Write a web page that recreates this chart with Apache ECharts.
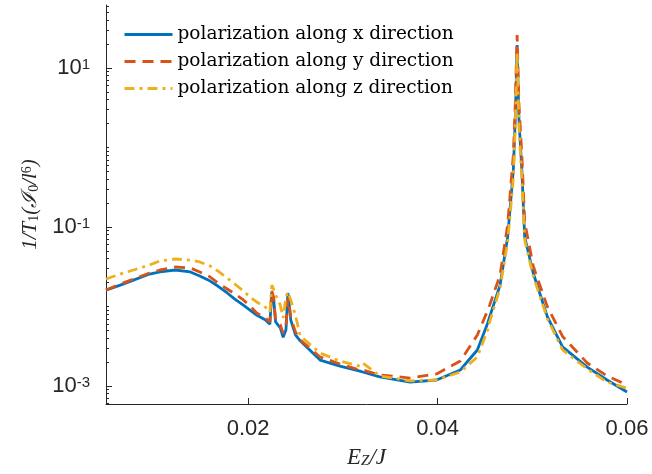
<!DOCTYPE html>
<html>
<head>
<meta charset="utf-8">
<script src="https://cdn.jsdelivr.net/npm/echarts@6/dist/echarts.min.js"></script>
<style>
html, body { margin: 0; padding: 0; background: #fff; }
#chart { width: 652px; height: 474px; }
</style>
</head>
<body>
<div id="chart"></div>
<script>
// E_Z / J
var ez = [0.0050, 0.0065, 0.0079, 0.0096, 0.0107, 0.0123, 0.0139, 0.0149, 0.0160, 0.0168,
          0.0178, 0.0186, 0.0195, 0.0202, 0.0209, 0.0218, 0.0223, 0.0225, 0.0227, 0.0229,
          0.0234, 0.0237, 0.0240, 0.0242, 0.0243, 0.0245, 0.0250, 0.0255, 0.0276, 0.0297,
          0.0318, 0.0321, 0.0339, 0.0371, 0.0399, 0.0424, 0.0442, 0.0453, 0.0455, 0.0466,
          0.0474, 0.0480, 0.0482, 0.0483, 0.0484, 0.0485, 0.0486, 0.0489, 0.0492, 0.0501,
          0.0516, 0.0532, 0.0558, 0.0579, 0.0600];
// 1/T1 for each polarization
var rateX = [0.0161, 0.0186, 0.0215, 0.0256, 0.0272, 0.0288, 0.0272, 0.0242, 0.0209, 0.0181,
             0.0148, 0.0124, 0.0104, 0.0090, 0.0078, 0.0068, 0.0060, 0.0152, 0.0125, 0.0064,
             0.0054, 0.0041, 0.0051, 0.0148, 0.0120, 0.0068, 0.0044, 0.0037, 0.00212, 0.00178,
             0.00154, 0.00150, 0.00130, 0.00112, 0.00119, 0.00159, 0.00284, 0.0062, 0.0074, 0.0186,
             0.0748, 0.52, 2.2, 6.1, 19.5, 6.1, 2.2, 0.52, 0.0748, 0.0264,
             0.0074, 0.0031, 0.00173, 0.00119, 0.00084];
var rateY = [0.0161, 0.0192, 0.0222, 0.0264, 0.0288, 0.0314, 0.0305, 0.0272, 0.0235, 0.0198,
             0.0166, 0.0144, 0.0121, 0.0102, 0.0083, 0.0072, 0.0064, 0.0157, 0.0130, 0.0068,
             0.0059, 0.0046, 0.0057, 0.0128, 0.0115, 0.0072, 0.0048, 0.0038, 0.00232, 0.00189,
             0.00159, 0.00159, 0.00138, 0.00126, 0.00142, 0.00206, 0.00438, 0.0090, 0.0104, 0.0249,
             0.106, 0.805, 3.4, 9.4, 26, 9.4, 3.4, 0.805, 0.116, 0.0323,
             0.0099, 0.0042, 0.00195, 0.00134, 0.00103];
var rateZ = [0.0222, 0.0256, 0.0288, 0.0333, 0.0374, 0.0396, 0.0384, 0.0363, 0.0323, 0.0280,
             0.0228, 0.0192, 0.0157, 0.0132, 0.0114, 0.0099, 0.0085, 0.0186, 0.0165, 0.0140,
             0.0104, 0.0072, 0.0132, 0.0152, 0.0150, 0.0121, 0.0078, 0.00425, 0.0026, 0.00206,
             0.00178, 0.00195, 0.00134, 0.00116, 0.00119, 0.00150, 0.00232, 0.0051, 0.0064, 0.0171,
             0.0647, 0.41, 1.76, 5.0, 15.9, 5.0, 1.76, 0.41, 0.0686, 0.0242,
             0.0070, 0.00284, 0.00164, 0.00112, 0.00094];

var seriesNames = ['polarization along x direction', 'polarization along y direction', 'polarization along z direction'];
var xTicks = [0.02, 0.04, 0.06];
var yTicks = [1e-3, 1e-1, 1e1];
var yMinorTicks = [6e-4, 7e-4, 8e-4, 9e-4,
                   2e-3, 3e-3, 4e-3, 5e-3, 6e-3, 7e-3, 8e-3, 9e-3, 1e-2,
                   2e-2, 3e-2, 4e-2, 5e-2, 6e-2, 7e-2, 8e-2, 9e-2,
                   2e-1, 3e-1, 4e-1, 5e-1, 6e-1, 7e-1, 8e-1, 9e-1, 1,
                   2, 3, 4, 5, 6, 7, 8, 9,
                   20, 30, 40, 50, 60];

var axisColor = '#262626';
var yMin = 0.000594, yMax = 62;

function pairs(ys) {
  return ez.map(function (x, i) { return [x, ys[i]]; });
}

var chart = echarts.init(document.getElementById('chart'));
chart.setOption({
  animation: false,
  backgroundColor: '#fff',
  grid: { left: 106, right: 25, top: 5, bottom: 70 },
  legend: {
    orient: 'vertical',
    left: 118,
    top: 20,
    itemWidth: 48,
    itemHeight: 20,
    itemGap: 8,
    data: seriesNames,
    itemStyle: { opacity: 0 },
    lineStyle: { width: 3 },
    textStyle: { fontFamily: 'DejaVu Serif', fontSize: 18.5, color: '#000' }
  },
  xAxis: {
    type: 'value',
    min: 0.005,
    max: 0.06,
    axisLine: { lineStyle: { color: axisColor, width: 1 } },
    axisTick: { inside: true, length: 6, customValues: xTicks, lineStyle: { color: axisColor } },
    axisLabel: {
      customValues: xTicks,
      formatter: function (v) { return v.toFixed(2); },
      fontFamily: 'Liberation Sans', fontSize: 22, color: axisColor, margin: 14
    },
    splitLine: { show: false },
    name: '{n|E}{s|Z}{n|/J}',
    nameLocation: 'middle',
    nameGap: 42,
    nameTextStyle: {
      rich: {
        n: { fontFamily: 'Liberation Serif', fontStyle: 'italic', fontSize: 23, color: axisColor },
        s: { fontFamily: 'Liberation Serif', fontStyle: 'italic', fontSize: 15, color: axisColor, verticalAlign: 'bottom' }
      }
    }
  },
  yAxis: [{
    type: 'log',
    logBase: 10,
    min: yMin,
    max: yMax,
    axisLine: { show: true, lineStyle: { color: axisColor, width: 1 } },
    axisTick: { show: true, inside: true, length: 6, customValues: yTicks, lineStyle: { color: axisColor } },
    axisLabel: {
      customValues: yTicks,
      margin: 16,
      formatter: function (v) {
        var e = Math.round(Math.log(v) / Math.LN10);
        return '{b|10}{e|' + e + '}';
      },
      rich: {
        b: { fontFamily: 'Liberation Sans', fontSize: 22, color: axisColor },
        e: { fontFamily: 'Liberation Sans', fontSize: 15, color: axisColor, verticalAlign: 'top' }
      }
    },
    splitLine: { show: false },
    name: '{n|1/T}{s|1}{n|(ℐ}{s|0}{n|/l}{e|6}{n|)}',
    nameLocation: 'middle',
    nameGap: 62,
    nameRotate: 90,
    nameTextStyle: {
      rich: {
        n: { fontFamily: 'Liberation Serif', fontStyle: 'italic', fontSize: 21, color: axisColor },
        s: { fontFamily: 'Liberation Serif', fontSize: 14, color: axisColor, verticalAlign: 'bottom' },
        e: { fontFamily: 'Liberation Serif', fontSize: 14, color: axisColor, verticalAlign: 'top' }
      }
    }
  }, {
    type: 'log',
    logBase: 10,
    position: 'left',
    min: yMin,
    max: yMax,
    axisLine: { show: false },
    axisTick: { show: true, inside: true, length: 3, customValues: yMinorTicks, lineStyle: { color: axisColor } },
    axisLabel: { show: false },
    splitLine: { show: false }
  }],
  series: [{
    name: seriesNames[0],
    type: 'line',
    data: pairs(rateX),
    symbol: 'none',
    itemStyle: { color: '#0072BD' },
    lineStyle: { color: '#0072BD', width: 2.8 }
  }, {
    name: seriesNames[1],
    type: 'line',
    data: pairs(rateY),
    symbol: 'none',
    itemStyle: { color: '#D95319' },
    lineStyle: { color: '#D95319', width: 2.8, type: [11, 7] }
  }, {
    name: seriesNames[2],
    type: 'line',
    data: pairs(rateZ),
    symbol: 'none',
    itemStyle: { color: '#EDB120' },
    lineStyle: { color: '#EDB120', width: 2.8, type: [10, 5, 3, 5] }
  }]
});
</script>
</body>
</html>
